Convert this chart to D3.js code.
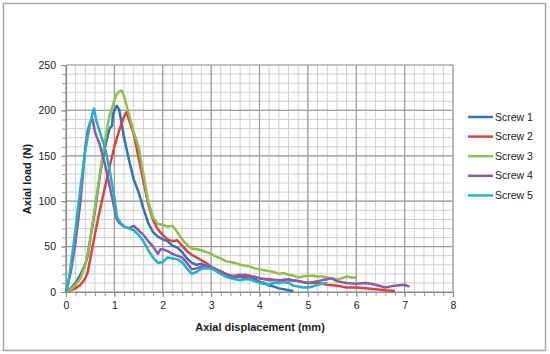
<!DOCTYPE html>
<html>
<head>
<meta charset="utf-8">
<script src="https://cdn.jsdelivr.net/npm/d3@7"></script>
<style>
  body { margin: 0; background: #fff; }
  text { font-family: "Liberation Sans", Arial, sans-serif; fill: #1a1a1a; }
</style>
</head>
<body>
<svg id="chart" width="550" height="354"></svg>
<script>
/* series data: [displacement mm, load N] */
var screw1 = [[0,0],[0.1,4],[0.2,10],[0.3,19],[0.4,31],[0.45,40],[0.5,58],[0.6,90],[0.7,128],[0.8,158],[0.9,180],[0.95,183],[0.97,196],[1.0,200],[1.05,205],[1.1,201],[1.15,186],[1.2,170],[1.3,146],[1.4,124],[1.5,110],[1.6,92],[1.7,76],[1.8,66],[1.9,61],[2.0,58],[2.1,56],[2.2,51],[2.3,49],[2.4,44],[2.5,37],[2.6,32],[2.7,30],[2.8,31],[2.9,29],[3.0,26],[3.1,25],[3.2,22],[3.3,20],[3.4,17],[3.5,16],[3.6,17],[3.7,15],[3.8,14],[3.9,14],[4.0,11],[4.1,10],[4.2,7],[4.3,6],[4.4,4],[4.5,3],[4.6,2],[4.7,1]];
var screw2 = [[0,0],[0.1,2],[0.2,4],[0.3,8],[0.4,15],[0.45,22],[0.5,36],[0.6,64],[0.7,90],[0.8,114],[0.9,138],[1.0,160],[1.1,178],[1.2,193],[1.25,198],[1.3,190],[1.4,174],[1.5,148],[1.6,122],[1.7,97],[1.8,79],[1.9,69],[2.0,63],[2.1,58],[2.2,56],[2.3,57],[2.4,51],[2.5,45],[2.6,41],[2.7,38],[2.8,35],[2.9,32],[3.0,28],[3.1,25],[3.2,23],[3.3,20],[3.4,18],[3.5,18],[3.6,19],[3.7,17],[3.8,16],[3.9,17],[4.0,15],[4.2,14],[4.4,13],[4.6,13],[4.8,12],[5.0,10],[5.2,10],[5.4,8],[5.6,7],[5.8,5],[6.0,5],[6.2,4],[6.4,3],[6.6,2],[6.8,1]];
var screw3 = [[0,0],[0.1,3],[0.2,8],[0.3,15],[0.4,30],[0.5,58],[0.6,94],[0.7,130],[0.8,165],[0.9,194],[1.0,211],[1.05,218],[1.1,221],[1.15,222],[1.2,216],[1.3,196],[1.4,176],[1.5,160],[1.6,130],[1.7,100],[1.8,82],[1.9,75],[2.0,74],[2.1,72],[2.2,73],[2.3,66],[2.4,58],[2.5,52],[2.6,48],[2.7,47],[2.8,46],[2.9,44],[3.0,42],[3.1,39],[3.2,37],[3.3,34],[3.4,33],[3.5,32],[3.6,30],[3.7,29],[3.8,28],[3.9,26],[4.0,25],[4.1,24],[4.2,23],[4.3,22],[4.4,20],[4.5,21],[4.6,19],[4.7,18],[4.8,16],[4.9,17],[5.0,18],[5.1,18],[5.2,17],[5.3,17],[5.4,16],[5.5,15],[5.6,14],[5.7,15],[5.8,17],[5.9,16],[6.0,16]];
var screw4 = [[0,0],[0.1,22],[0.2,56],[0.3,100],[0.35,130],[0.4,160],[0.45,178],[0.5,187],[0.55,190],[0.6,176],[0.7,162],[0.8,142],[0.9,117],[1.0,92],[1.05,80],[1.1,76],[1.2,72],[1.3,70],[1.4,73],[1.5,68],[1.6,63],[1.7,56],[1.8,50],[1.9,42],[1.95,47],[2.0,47],[2.1,45],[2.2,42],[2.3,40],[2.4,38],[2.5,32],[2.6,25],[2.7,26],[2.8,28],[2.9,29],[3.0,28],[3.1,25],[3.2,22],[3.3,20],[3.4,18],[3.5,17],[3.6,18],[3.7,19],[3.8,18],[3.9,16],[4.0,15],[4.2,13],[4.4,13],[4.6,14],[4.8,12],[5.0,10],[5.2,12],[5.4,14],[5.5,15],[5.6,12],[5.8,10],[6.0,9],[6.2,10],[6.3,9],[6.4,8],[6.6,5],[6.8,7],[7.0,8],[7.1,6]];
var screw5 = [[0,0],[0.05,10],[0.1,30],[0.2,70],[0.3,116],[0.4,156],[0.5,186],[0.55,197],[0.58,202],[0.62,190],[0.7,176],[0.8,160],[0.9,135],[1.0,104],[1.05,84],[1.1,78],[1.2,72],[1.3,70],[1.4,68],[1.5,63],[1.6,56],[1.7,46],[1.8,38],[1.9,32],[2.0,33],[2.1,38],[2.2,37],[2.3,36],[2.4,33],[2.5,26],[2.6,20],[2.7,22],[2.8,26],[2.9,26],[3.0,26],[3.1,23],[3.2,20],[3.3,17],[3.4,15],[3.5,14],[3.6,13],[3.7,14],[3.8,14],[3.9,12],[4.0,10],[4.1,9],[4.2,8],[4.3,10],[4.4,10],[4.5,11],[4.6,10],[4.7,7],[4.8,6],[4.9,5],[5.0,5],[5.1,6],[5.2,8],[5.3,9],[5.4,10]];

var seriesNames = ["Screw 1", "Screw 2", "Screw 3", "Screw 4", "Screw 5"];
var seriesData = [screw1, screw2, screw3, screw4, screw5];
var colors = ["#2a73bd", "#e2403a", "#8dc147", "#8a5ca8", "#1bb3cf"];
var xTicks = [0, 1, 2, 3, 4, 5, 6, 7, 8];
var yTicks = [0, 50, 100, 150, 200, 250];

var svg = d3.select("#chart");

// outer frame
svg.append("rect").attr("x", 3.5).attr("y", 3.5).attr("width", 542).attr("height", 347)
  .attr("fill", "none").attr("stroke", "#a6a6a6").attr("stroke-width", 1.5);

var plotL = 66, plotR = 453, plotT = 65, plotB = 292;
var x = d3.scaleLinear().domain([0, 8]).range([plotL, plotR]);
var y = d3.scaleLinear().domain([0, 250]).range([plotB, plotT]);
var xMinor = d3.range(0, 8.01, 0.2), yMinor = d3.range(0, 250.1, 10);

// minor grid
var g = svg.append("g");
g.selectAll(".mx").data(xMinor).enter().append("line")
  .attr("x1", d => x(d)).attr("x2", d => x(d)).attr("y1", plotT).attr("y2", plotB)
  .attr("stroke", "#cfcfcf").attr("stroke-width", 1);
g.selectAll(".my").data(yMinor).enter().append("line")
  .attr("y1", d => y(d)).attr("y2", d => y(d)).attr("x1", plotL).attr("x2", plotR)
  .attr("stroke", "#cfcfcf").attr("stroke-width", 1);
// major grid
g.selectAll(".Mx").data(xTicks).enter().append("line")
  .attr("x1", d => x(d)).attr("x2", d => x(d)).attr("y1", plotT).attr("y2", plotB)
  .attr("stroke", "#9c9c9c").attr("stroke-width", 1.2);
g.selectAll(".My").data(yTicks).enter().append("line")
  .attr("y1", d => y(d)).attr("y2", d => y(d)).attr("x1", plotL).attr("x2", plotR)
  .attr("stroke", "#9c9c9c").attr("stroke-width", 1.2);

// minor tick marks
svg.append("g").attr("transform", "translate(0," + plotB + ")")
  .call(d3.axisBottom(x).tickValues(xMinor).tickFormat("").tickSize(4))
  .call(a => a.select(".domain").remove())
  .selectAll("line").attr("stroke", "#9c9c9c");
svg.append("g").attr("transform", "translate(" + plotL + ",0)")
  .call(d3.axisLeft(y).tickValues(yMinor).tickFormat("").tickSize(4))
  .call(a => a.select(".domain").remove())
  .selectAll("line").attr("stroke", "#9c9c9c");

// axes
var xAxis = svg.append("g").attr("transform", "translate(0," + plotB + ")")
  .call(d3.axisBottom(x).tickValues(xTicks).tickFormat(d3.format("d")).tickSize(5).tickPadding(5));
var yAxis = svg.append("g").attr("transform", "translate(" + plotL + ",0)")
  .call(d3.axisLeft(y).tickValues(yTicks).tickSize(5).tickPadding(5));
[xAxis, yAxis].forEach(function(a) {
  a.select(".domain").attr("stroke", "#8c8c8c").attr("stroke-width", 1.2);
  a.selectAll(".tick line").attr("stroke", "#8c8c8c");
  a.selectAll(".tick text").attr("font-size", 10.5).attr("fill", "#1a1a1a")
    .attr("font-family", "Liberation Sans, Arial, sans-serif");
});

// lines
var line = d3.line().x(d => x(d[0])).y(d => y(d[1]));
svg.append("g").selectAll("path").data(seriesData).enter().append("path")
  .attr("d", line).attr("fill", "none")
  .attr("stroke", (d, i) => colors[i]).attr("stroke-width", 2.5)
  .attr("stroke-linejoin", "round");

// axis titles
svg.append("text").attr("x", 260).attr("y", 331).attr("text-anchor", "middle")
  .attr("font-size", 11).attr("font-weight", "bold").text("Axial displacement (mm)");
svg.append("text").attr("transform", "translate(31,179) rotate(-90)").attr("text-anchor", "middle")
  .attr("font-size", 11).attr("font-weight", "bold").text("Axial load (N)");

// legend
var lg = svg.append("g").selectAll("g").data(seriesNames).enter().append("g")
  .attr("transform", (d, i) => "translate(468," + (117 + i * 19.6) + ")");
lg.append("line").attr("x1", 0).attr("x2", 25).attr("stroke", (d, i) => colors[i]).attr("stroke-width", 2.5);
lg.append("text").attr("x", 27).attr("dy", "0.35em").attr("font-size", 10.5).text(d => d);
</script>
</body>
</html>
